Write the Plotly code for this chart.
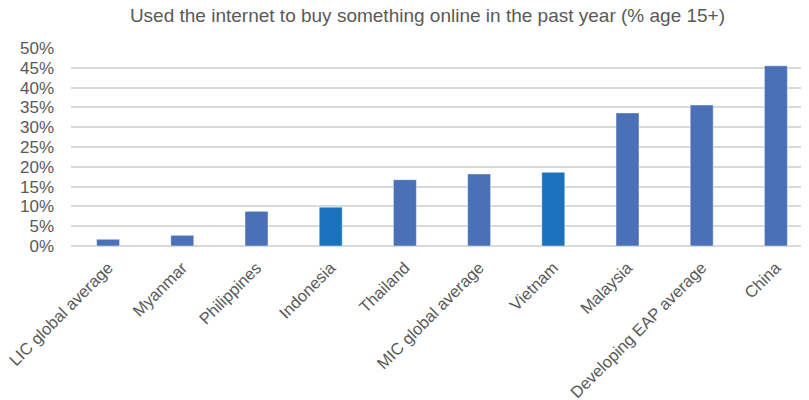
import plotly.graph_objects as go

categories = ["LIC global average", "Myanmar", "Philippines", "Indonesia", "Thailand",
              "MIC global average", "Vietnam", "Malaysia", "Developing EAP average", "China"]
values = [1.7, 2.7, 8.75, 9.8, 16.75, 18.2, 18.6, 33.6, 35.6, 45.5]
highlight = ["Indonesia", "Vietnam"]

base_color = "#4A70B7"
hi_color = "#1B72BC"
colors = [hi_color if c in highlight else base_color for c in categories]

fig = go.Figure(go.Bar(
    x=categories, y=values,
    marker=dict(color=colors, line=dict(color="rgba(255,255,255,0.45)", width=1)),
    width=0.31,
))

fig.update_layout(
    width=809, height=400,
    margin=dict(l=63, r=4, t=39.5, b=162.3),
    paper_bgcolor="white", plot_bgcolor="white",
    title=dict(text="Used the internet to buy something online in the past year (% age 15+)",
               x=0.5185, xanchor="center", xref="container",
               y=0.9825, yanchor="middle",
               font=dict(family="Liberation Sans, Arial, sans-serif", size=19, color="#595959")),
    showlegend=False,
    font=dict(family="Liberation Sans, Arial, sans-serif", color="#595959"),
)
fig.update_xaxes(range=[-0.5, 9.5], tickangle=-45, tickfont=dict(size=16.5, color="#595959"),
                 showgrid=False, showline=False, ticks="", automargin=False, ticklabelstandoff=8)
fig.update_yaxes(range=[0, 50], dtick=5, ticksuffix="%", tickfont=dict(size=17, color="#595959"),
                 gridcolor="#D9D9D9", gridwidth=1.5, zeroline=True, zerolinecolor="#D9D9D9",
                 zerolinewidth=1.5, showline=False, ticks="", ticklabelstandoff=16, automargin=False)

fig.write_html("out.html")
